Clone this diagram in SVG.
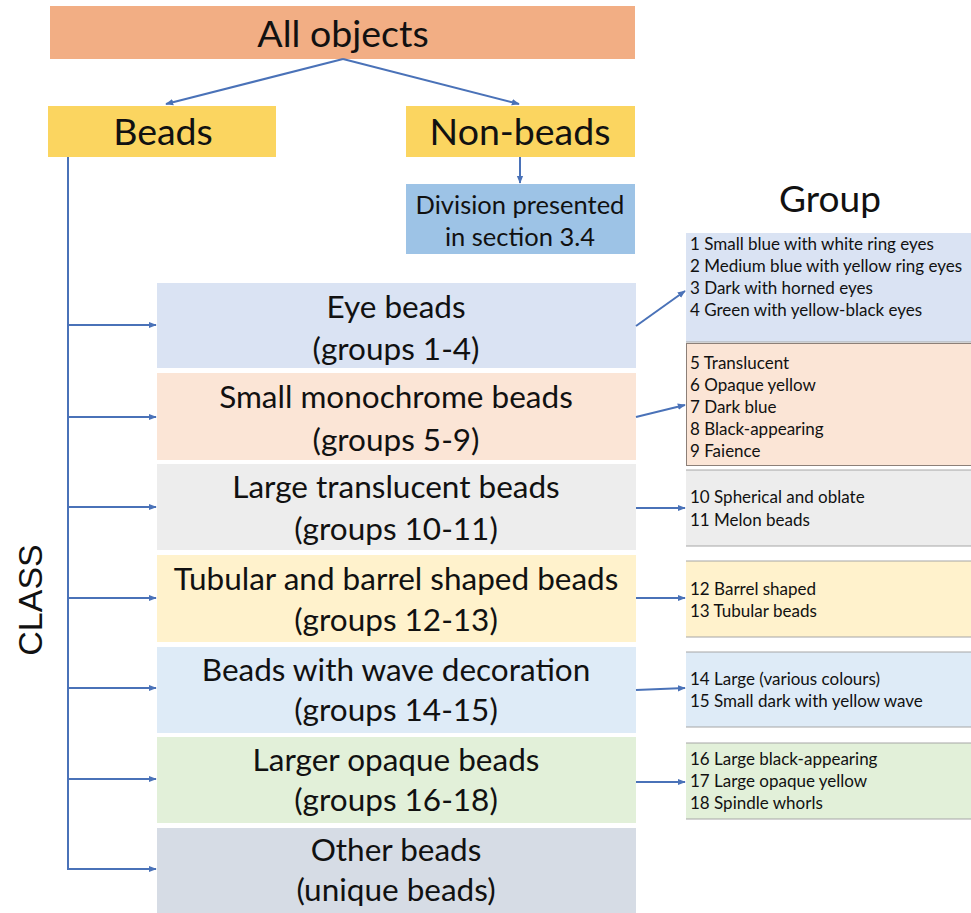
<svg xmlns="http://www.w3.org/2000/svg" width="971" height="913" viewBox="0 0 971 913">
<defs>
<marker id="ah" viewBox="0 0 10 10" refX="9" refY="5" markerWidth="4" markerHeight="4" orient="auto" markerUnits="strokeWidth">
<path d="M0,1 L10,5 L0,9 z" fill="#4A72B8"/>
</marker>
<style>
text{font-family:Lato,"Open Sans","Liberation Sans",sans-serif;fill:#111}
.big{font-size:37.5px;text-anchor:middle}
.cls{font-size:31.5px;text-anchor:middle}
.div{font-size:25.5px;text-anchor:middle}
.grp{font-size:17px}
.conn{stroke:#4A72B8;stroke-width:2;fill:none}
.gb{stroke:#A6A6A6;stroke-width:1}
</style>
</defs>
<rect width="971" height="913" fill="#fff"/>
<g id="all-objects"><rect x="50" y="6" width="585" height="53" fill="#F2AE84"/><text class="big" x="343" y="47">All objects</text></g>
<g id="beads"><rect x="48" y="106" width="228" height="51" fill="#FBD560"/><text class="big" x="163" y="145">Beads</text></g>
<g id="non-beads"><rect x="406" y="106" width="229" height="51" fill="#FBD560"/><text class="big" x="520" y="145">Non-beads</text></g>
<g id="division"><rect x="406" y="184" width="229" height="70" fill="#9DC3E6"/><text class="div" x="520" y="214">Division presented</text><text class="div" x="520" y="246">in section 3.4</text></g>
<g id="group-title"><text x="830" y="212" font-size="37" text-anchor="middle">Group</text></g>
<g id="class-title"><text x="0" y="0" transform="translate(42,600) rotate(-90)" font-size="34" text-anchor="middle" style="font-family:'Liberation Sans',Arial,sans-serif">CLASS</text></g>

<g id="eye-beads"><rect x="157" y="283" width="479" height="85" fill="#DAE3F3"/><text class="cls" x="396" y="318">Eye beads</text><text class="cls" x="396" y="360">(groups 1-4)</text></g>
<g id="small-mono"><rect x="157" y="373" width="479" height="87" fill="#FBE5D6"/><text class="cls" x="396" y="408">Small monochrome beads</text><text class="cls" x="396" y="451">(groups 5-9)</text></g>
<g id="large-trans"><rect x="157" y="464" width="479" height="86" fill="#EDEDED"/><text class="cls" x="396" y="498">Large translucent  beads</text><text class="cls" x="396" y="540">(groups 10-11)</text></g>
<g id="tubular"><rect x="157" y="555" width="479" height="87" fill="#FFF2CC"/><text class="cls" x="396" y="590">Tubular and barrel shaped beads</text><text class="cls" x="396" y="631">(groups 12-13)</text></g>
<g id="wave"><rect x="157" y="647" width="479" height="86" fill="#DEEBF7"/><text class="cls" x="396" y="681">Beads with wave decoration</text><text class="cls" x="396" y="721">(groups 14-15)</text></g>
<g id="opaque"><rect x="157" y="737" width="479" height="86" fill="#E2F0D9"/><text class="cls" x="396" y="771">Larger opaque beads</text><text class="cls" x="396" y="811">(groups 16-18)</text></g>
<g id="other"><rect x="157" y="828" width="479" height="85" fill="#D6DCE5"/><text class="cls" x="396" y="861">Other beads</text><text class="cls" x="396" y="901">(unique beads)</text></g>

<g id="g1-4"><rect x="686" y="233" width="290" height="109" fill="#DAE3F3"/><line class="gb" x1="686" y1="342" x2="971" y2="342"/>
<text class="grp" x="690" y="250">1 Small blue with white ring eyes</text><text class="grp" x="690" y="272">2 Medium blue with yellow ring eyes</text><text class="grp" x="690" y="294">3 Dark with horned eyes</text><text class="grp" x="690" y="316">4 Green with yellow-black eyes</text></g>
<g id="g5-9"><rect x="686.5" y="343.5" width="290" height="122" fill="#FBE5D6" stroke="#8C7F78" stroke-width="1"/>
<text class="grp" x="690" y="369">5 Translucent</text><text class="grp" x="690" y="391">6 Opaque yellow</text><text class="grp" x="690" y="413">7 Dark blue</text><text class="grp" x="690" y="435">8 Black-appearing</text><text class="grp" x="690" y="457">9 Faience</text></g>
<g id="g10-11"><rect x="686" y="470" width="290" height="76" fill="#EDEDED"/><line class="gb" x1="686" y1="470" x2="971" y2="470"/><line class="gb" x1="686" y1="546" x2="971" y2="546"/>
<text class="grp" x="690" y="503">10 Spherical and oblate</text><text class="grp" x="690" y="526">11 Melon beads</text></g>
<g id="g12-13"><rect x="686" y="561" width="290" height="76" fill="#FFF2CC"/><line class="gb" x1="686" y1="561" x2="971" y2="561"/><line class="gb" x1="686" y1="637" x2="971" y2="637"/>
<text class="grp" x="690" y="595">12 Barrel shaped</text><text class="grp" x="690" y="617">13 Tubular beads</text></g>
<g id="g14-15"><rect x="686" y="652" width="290" height="75" fill="#DEEBF7"/><line class="gb" x1="686" y1="652" x2="971" y2="652"/><line class="gb" x1="686" y1="727" x2="971" y2="727"/>
<text class="grp" x="690" y="685">14 Large (various colours)</text><text class="grp" x="690" y="707">15 Small dark with yellow wave</text></g>
<g id="g16-18"><rect x="686" y="743" width="290" height="76" fill="#E2F0D9"/><line class="gb" x1="686" y1="743" x2="971" y2="743"/><line class="gb" x1="686" y1="819" x2="971" y2="819"/>
<text class="grp" x="690" y="765">16 Large black-appearing</text><text class="grp" x="690" y="787">17 Large opaque yellow</text><text class="grp" x="690" y="809">18 Spindle whorls</text></g>

<g id="connectors">
<line class="conn" x1="343" y1="59" x2="166" y2="104" marker-end="url(#ah)"/>
<line class="conn" x1="343" y1="59" x2="519" y2="104" marker-end="url(#ah)"/>
<line class="conn" x1="520" y1="157" x2="520" y2="183" marker-end="url(#ah)"/>
<polyline class="conn" points="68,157 68,869 156,869" marker-end="url(#ah)"/>
<line class="conn" x1="68" y1="325" x2="156" y2="325" marker-end="url(#ah)"/>
<line class="conn" x1="68" y1="417" x2="156" y2="417" marker-end="url(#ah)"/>
<line class="conn" x1="68" y1="507" x2="156" y2="507" marker-end="url(#ah)"/>
<line class="conn" x1="68" y1="598" x2="156" y2="598" marker-end="url(#ah)"/>
<line class="conn" x1="68" y1="688" x2="156" y2="688" marker-end="url(#ah)"/>
<line class="conn" x1="68" y1="779" x2="156" y2="779" marker-end="url(#ah)"/>
<line class="conn" x1="636" y1="326" x2="685" y2="291" marker-end="url(#ah)"/>
<line class="conn" x1="636" y1="417" x2="685" y2="405" marker-end="url(#ah)"/>
<line class="conn" x1="636" y1="508" x2="685" y2="508" marker-end="url(#ah)"/>
<line class="conn" x1="636" y1="598" x2="685" y2="598" marker-end="url(#ah)"/>
<line class="conn" x1="636" y1="690" x2="685" y2="688" marker-end="url(#ah)"/>
<line class="conn" x1="636" y1="782" x2="685" y2="782" marker-end="url(#ah)"/>
</g>
</svg>
